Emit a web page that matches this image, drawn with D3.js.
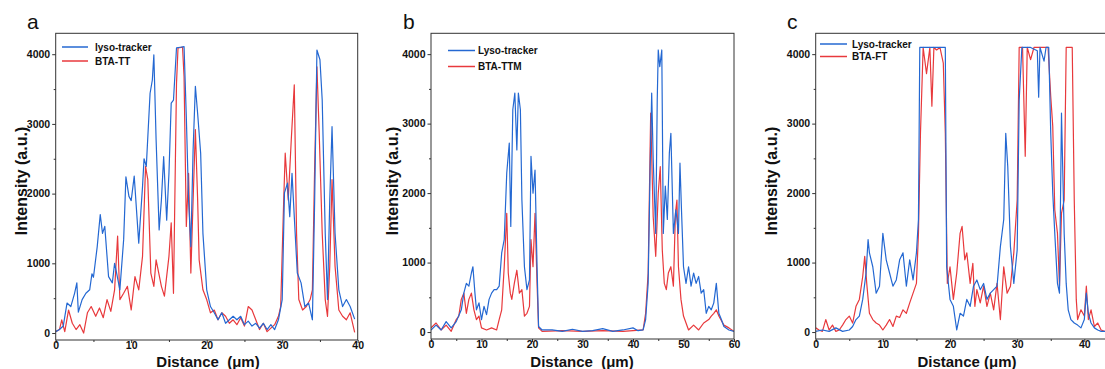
<!DOCTYPE html>
<html>
<head>
<meta charset="utf-8">
<script src="https://cdn.jsdelivr.net/npm/d3@7"></script>
<style>
  body { margin: 0; background: #fff; }
  svg { display: block; font-family: "Liberation Sans", Arial, sans-serif; }
</style>
</head>
<body>
<svg id="chart" width="1105" height="369"></svg>
<script>
// ---- data: [distance (um), intensity (a.u.)] ----
const aLyso = [[0,20],[0.5,50],[1,100],[1.5,430],[2,380],[2.5,570],[2.8,720],[3,300],[3.5,480],[4,570],[4.5,620],[4.8,850],[5,800],[5.5,1240],[5.9,1700],[6.2,1430],[6.5,1530],[7,810],[7.5,720],[7.8,1000],[8,900],[8.5,620],[9,1340],[9.3,2240],[9.7,1960],[10,1900],[10.4,2250],[11,1290],[11.5,2100],[11.7,2500],[12,2390],[12.5,3440],[12.8,3630],[13,3990],[13.3,2770],[13.7,1480],[14,1910],[14.3,2530],[14.7,1620],[15,2290],[15.3,3300],[15.6,3340],[16,4090],[16.5,4100],[17,4110],[17.3,3100],[17.6,1910],[17.9,1240],[18.2,2630],[18.5,3540],[18.8,3150],[19.2,2580],[19.5,1430],[20,620],[20.5,380],[21,290],[21.5,190],[22,290],[22.5,140],[23,190],[23.5,240],[24,190],[24.5,240],[25,120],[25.5,170],[26,100],[26.5,140],[27,70],[27.5,140],[28,50],[28.5,120],[29,50],[29.5,190],[30,480],[30.3,2010],[30.7,2150],[31,1670],[31.3,2290],[31.6,1670],[32,860],[32.5,720],[33,380],[33.5,430],[34,190],[34.3,1910],[34.6,4060],[35,3920],[35.3,3340],[35.7,1430],[36,480],[36.3,1910],[36.6,2960],[37,1430],[37.5,620],[38,380],[38.5,480],[39,380],[39.6,200]];
const aBtaTT = [[0,20],[0.5,50],[0.8,190],[1.2,20],[1.7,330],[2.2,140],[2.7,50],[3.2,120],[3.7,0],[4.2,290],[4.7,380],[5.3,240],[5.8,360],[6.3,220],[6.8,480],[7.3,310],[7.8,620],[8.2,1390],[8.5,480],[9,570],[9.5,670],[10,330],[10.5,810],[11,620],[11.5,1100],[11.9,2390],[12.2,2200],[12.6,860],[13,670],[13.3,1050],[14,670],[14.4,530],[15,1100],[15.3,1580],[15.6,570],[16,3580],[16.2,4090],[16.8,4100],[17,3680],[17.3,1530],[17.6,2290],[17.9,860],[18.2,1910],[18.5,2920],[18.8,1910],[19,1050],[19.5,620],[20,480],[20.5,290],[21,330],[21.5,190],[22,290],[22.5,240],[23,140],[23.5,190],[24,120],[24.5,220],[25,100],[25.5,380],[26,330],[26.5,190],[27,50],[27.5,140],[28,20],[28.5,70],[29,120],[29.5,240],[29.8,380],[30.2,1910],[30.4,2580],[30.8,1910],[31.2,2770],[31.6,3560],[31.9,1430],[32.2,480],[32.7,330],[33.2,380],[33.7,480],[34,620],[34.3,2390],[34.6,3820],[34.9,2870],[35.3,1430],[35.7,480],[36,240],[36.3,960],[36.6,2200],[37,960],[37.5,330],[38,240],[38.5,190],[39,290],[39.6,10]];

const bLyso = [[0,30],[1,100],[2,30],[3,150],[4,60],[5,150],[6,320],[6.5,560],[7,700],[7.5,660],[8,850],[8.3,940],[8.7,560],[9,320],[9.5,420],[10,180],[10.5,370],[11,250],[11.5,470],[12,560],[12.5,610],[13,610],[13.5,660],[14,1140],[14.5,1330],[15,2290],[15.5,2720],[15.8,1520],[16.2,3200],[16.6,3440],[17,2620],[17.3,3440],[17.7,3200],[18,1900],[18.5,940],[19,610],[19.5,750],[19.8,2530],[20.2,2000],[20.6,2330],[21,940],[21.3,80],[22,30],[24,30],[26,10],[28,40],[30,10],[32,20],[34,50],[36,10],[38,30],[40,60],[41,20],[42,30],[42.5,180],[43,700],[43.4,2380],[43.7,3440],[44,2480],[44.5,1420],[44.8,3340],[45,4060],[45.3,3820],[45.7,4060],[46,1420],[46.4,2100],[46.8,1620],[47.2,2580],[47.5,2860],[48,1420],[48.5,1760],[49,1420],[49.3,2430],[49.6,1760],[50,940],[50.5,700],[51,940],[51.5,660],[52,850],[52.5,700],[53,800],[53.5,560],[54,610],[54.5,270],[55,370],[55.5,320],[56,420],[56.5,700],[57,270],[57.5,180],[58,80],[59,30],[60,10]];
const bBtaTTM = [[0,60],[1,130],[2,30],[3,100],[4,10],[5,180],[5.5,230],[6,470],[6.5,560],[7,270],[7.5,470],[8,560],[8.5,320],[9,180],[9.5,230],[10,60],[11,30],[12,60],[13,30],[13.5,180],[14,320],[14.5,940],[15,1710],[15.3,850],[15.7,560],[16,470],[16.5,700],[17,890],[17.5,560],[18,610],[18.5,230],[19,270],[19.5,370],[19.8,1330],[20.2,940],[20.6,1710],[21,700],[21.3,60],[22,10],[26,20],[30,10],[34,20],[38,10],[42,30],[42.5,270],[43,850],[43.5,3150],[44,1660],[44.5,1090],[45,2000],[45.4,2380],[45.8,1180],[46.2,700],[46.6,610],[47,850],[47.5,940],[48,660],[48.4,1710],[48.7,1900],[49,940],[49.5,470],[50,230],[51,30],[52,100],[53,30],[54,130],[55,180],[55.5,230],[56,270],[56.5,320],[57,230],[58,100],[59,60],[60,10]];

const cLyso = [[0,10],[1,30],[2,10],[3,60],[4,10],[5,30],[5.5,80],[6,180],[6.5,230],[7,470],[7.5,850],[7.8,1330],[8,1140],[8.5,940],[9,560],[9.5,660],[10,1420],[10.5,1040],[11,850],[11.5,660],[12,750],[12.5,1040],[13,1140],[13.5,660],[14,1040],[14.5,750],[15,1140],[15.3,1620],[15.5,4096],[16,4096],[17,4096],[18,4096],[19,4096],[19.3,4096],[19.5,940],[20,470],[20.5,370],[21,30],[21.5,270],[22,230],[22.5,470],[23,370],[23.5,660],[24,750],[24.5,610],[25,700],[25.5,470],[26,560],[26.5,610],[27,660],[27.5,1230],[28,1620],[28.3,2860],[28.6,2380],[29,1230],[29.5,700],[30,1180],[30.3,3340],[30.7,4096],[31,4096],[32,4096],[33,4050],[33.2,3380],[33.4,4096],[34,3900],[34.3,4096],[34.7,4096],[35,2860],[35.3,2000],[35.6,1420],[36,700],[36.3,560],[36.6,3150],[37,1420],[37.3,700],[37.6,320],[38,180],[38.5,130],[39,100],[39.5,60],[40,180],[40.3,560],[40.6,270],[41,130],[41.5,60],[42,30],[42.5,10],[43.5,10]];
const cBtaFT = [[0,60],[0.5,30],[1,10],[1.5,180],[2,30],[2.5,100],[3,10],[3.5,30],[4,100],[4.5,180],[5,230],[5.5,130],[6,370],[6.5,470],[7,800],[7.3,1090],[7.6,700],[8,270],[8.5,180],[9,130],[9.5,100],[10,30],[10.5,100],[11,180],[11.5,80],[12,230],[12.5,210],[13,320],[13.5,270],[14,420],[14.5,560],[15,700],[15.3,1420],[15.6,2860],[16,4096],[16.5,3720],[17,4096],[17.3,3250],[17.6,4096],[18,4060],[18.5,4096],[19,3870],[19.3,2860],[19.6,700],[20,940],[20.5,470],[21,850],[21.5,1420],[21.8,1520],[22.2,1040],[22.5,1140],[23,700],[23.4,990],[23.7,370],[24,610],[24.5,420],[25,660],[25.5,370],[26,560],[26.5,320],[27,700],[27.5,180],[28,940],[28.5,560],[29,660],[29.5,1140],[30,1900],[30.3,4096],[30.8,4096],[31.2,2530],[31.5,4096],[32,3920],[32.5,4096],[33,4096],[34,4096],[34.6,4096],[35,3390],[35.3,2960],[35.6,1760],[36,1420],[36.3,660],[36.6,1710],[37,1900],[37.3,4096],[38.2,4096],[38.5,1900],[38.8,470],[39,180],[39.5,320],[40,230],[40.3,660],[40.6,180],[41,320],[41.5,80],[42,130],[42.5,30],[43,10],[44,30]];

const yTicks = [0, 1000, 2000, 3000, 4000];
const yMinor = [500, 1500, 2500, 3500];

const BLUE = '#2468d2';
const RED = '#e8393c';

const panels = [
  { tag: 'a', series: [aLyso, aBtaTT], names: ['lyso-tracker', 'BTA-TT'], xMax: 40, xTicks: [0, 10, 20, 30, 40],
    xTitle: 'Distance\u00a0\u00a0(\u03bcm)',
    left: 55.7, right: 357.7, top: 33.3, bottom: 340, tagX: 27, yTitleX: 21, xTitleX: 208,
    leg: { x1: 62, x2: 88, tx: 95, y: [47, 61] } },
  { tag: 'b', series: [bLyso, bBtaTTM], names: ['Lyso-tracker', 'BTA-TTM'], xMax: 60, xTicks: [0, 10, 20, 30, 40, 50, 60],
    xTitle: 'Distance\u00a0\u00a0(\u03bcm)',
    left: 431, right: 734, top: 33.3, bottom: 339, tagX: 403, yTitleX: 392, xTitleX: 582,
    leg: { x1: 448, x2: 475, tx: 478, y: [50.5, 66.5] } },
  { tag: 'c', series: [cLyso, cBtaFT], names: ['Lyso-tracker', 'BTA-FT'], xMax: 45, xTicks: [0, 10, 20, 30, 40],
    xTitle: 'Distance (\u03bcm)',
    left: 815.7, right: 1117.9, top: 33.3, bottom: 339, tagX: 787, yTitleX: 771, xTitleX: 967,
    leg: { x1: 820, x2: 847, tx: 852, y: [44, 56.5] } },
];

const svg = d3.select('#chart');

panels.forEach((p, i) => {
  const x = d3.scaleLinear().domain([0, p.xMax]).range([p.left, p.right]);
  const y = d3.scaleLinear().domain([-100, 4300]).range([p.bottom, p.top]);
  const g = svg.append('g');

  const clipId = 'clip' + i;
  g.append('clipPath').attr('id', clipId)
    .append('rect')
    .attr('x', p.left).attr('y', p.top)
    .attr('width', p.right - p.left).attr('height', p.bottom - p.top);

  // minor ticks first (no labels)
  const xMinor = d3.range(5, p.xMax, 10);
  g.append('g').attr('transform', `translate(0,${p.bottom})`)
    .call(d3.axisBottom(x).tickValues(xMinor).tickSize(2).tickFormat(''));
  g.append('g').attr('transform', `translate(${p.left},0)`)
    .call(d3.axisLeft(y).tickValues(yMinor).tickSize(2).tickFormat(''));

  const xAxis = g.append('g').attr('transform', `translate(0,${p.bottom})`)
    .call(d3.axisBottom(x).tickValues(p.xTicks).tickSize(3).tickFormat(d3.format('d')));
  const yAxis = g.append('g').attr('transform', `translate(${p.left},0)`)
    .call(d3.axisLeft(y).tickValues(yTicks).tickSize(3.5).tickPadding(2).tickFormat(d3.format('d')));

  g.selectAll('.domain').remove();
  g.selectAll('.tick line').attr('stroke', '#333');
  [xAxis, yAxis].forEach(ax => ax.selectAll('text')
    .attr('font-family', '"Liberation Sans", Arial, sans-serif')
    .attr('font-size', 10.5).attr('font-weight', 'bold').attr('fill', '#111'));
  // x tick labels sit tight under the axis
  xAxis.selectAll('text').attr('y', 1.5);

  // lines
  const line = d3.line().x(d => x(d[0])).y(d => y(d[1]));
  const lines = g.append('g').attr('clip-path', `url(#${clipId})`);
  [1, 0].forEach(k => {
    lines.append('path')
      .datum(p.series[k])
      .attr('fill', 'none')
      .attr('stroke', k === 0 ? BLUE : RED)
      .attr('stroke-width', 1.2)
      .attr('stroke-linejoin', 'round')
      .attr('d', line);
  });

  // frame
  g.append('rect')
    .attr('x', p.left).attr('y', p.top)
    .attr('width', p.right - p.left).attr('height', p.bottom - p.top)
    .attr('fill', 'none').attr('stroke', '#333').attr('stroke-width', 1);

  // legend
  p.names.forEach((name, k) => {
    g.append('line')
      .attr('x1', p.leg.x1).attr('x2', p.leg.x2)
      .attr('y1', p.leg.y[k]).attr('y2', p.leg.y[k])
      .attr('stroke', k === 0 ? BLUE : RED).attr('stroke-width', 1.5);
    g.append('text')
      .attr('x', p.leg.tx).attr('y', p.leg.y[k] + 3.6)
      .attr('font-size', 10).attr('font-weight', 'bold').attr('fill', '#111')
      .text(name);
  });

  // titles
  g.append('text')
    .attr('x', p.xTitleX).attr('y', 366.5)
    .attr('text-anchor', 'middle')
    .attr('font-size', 15).attr('font-weight', 'bold').attr('fill', '#111')
    .text(p.xTitle);
  g.append('text')
    .attr('transform', `translate(${p.yTitleX + 5.5},181) rotate(-90)`)
    .attr('text-anchor', 'middle')
    .attr('font-size', 16).attr('font-weight', 'bold').attr('fill', '#111')
    .text('Intensity (a.u.)');

  g.append('text')
    .attr('x', p.tagX).attr('y', 29)
    .attr('font-size', 21).attr('fill', '#111')
    .text(p.tag);
});
</script>
</body>
</html>
